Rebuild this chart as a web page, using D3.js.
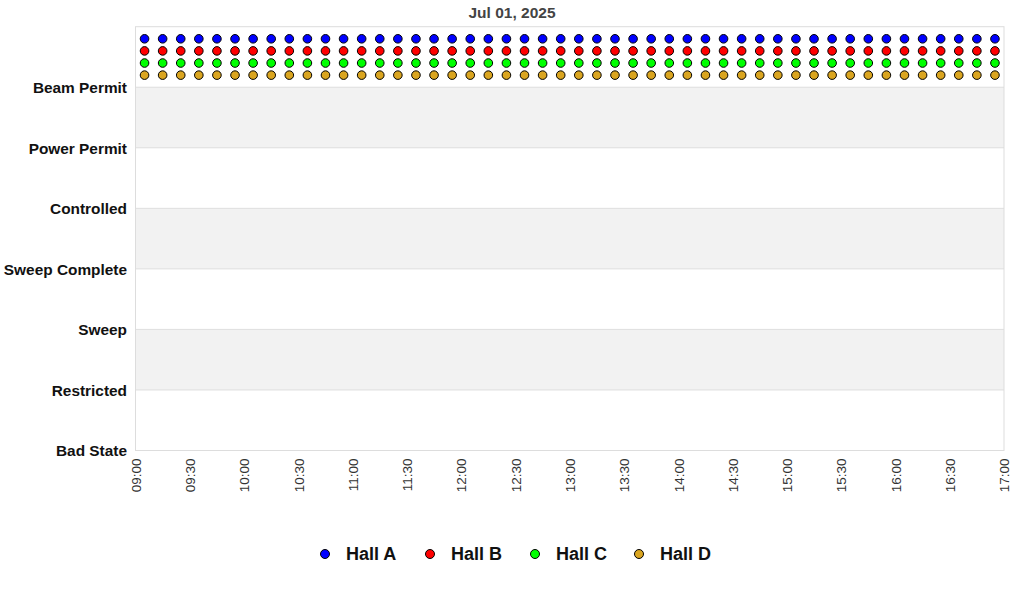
<!DOCTYPE html>
<html><head><meta charset="utf-8">
<script src="https://cdn.jsdelivr.net/npm/d3@7"></script>
<style>body{margin:0;background:#fff;font-family:"Liberation Sans",Arial,sans-serif}</style>
</head><body><svg id="c" width="1024" height="600"></svg>
<script>
const title = "Jul 01, 2025";
const states = ["Bad State","Restricted","Sweep","Sweep Complete","Controlled","Power Permit","Beam Permit"];
const halls = ["Hall A","Hall B","Hall C","Hall D"];
const hallColors = ["#0000ff","#ff0000","#00ff00","#daa520"];
const hallOffsets = [0.8,0.6,0.4,0.2];
const sampleTimes = ["09:05","09:15","09:25","09:35","09:45","09:55","10:05","10:15","10:25","10:35","10:45","10:55","11:05","11:15","11:25","11:35","11:45","11:55","12:05","12:15","12:25","12:35","12:45","12:55","13:05","13:15","13:25","13:35","13:45","13:55","14:05","14:15","14:25","14:35","14:45","14:55","15:05","15:15","15:25","15:35","15:45","15:55","16:05","16:15","16:25","16:35","16:45","16:55"];
const hallA = Array(48).fill("Beam Permit");
const hallB = Array(48).fill("Beam Permit");
const hallC = Array(48).fill("Beam Permit");
const hallD = Array(48).fill("Beam Permit");
const hallSeries = [hallA,hallB,hallC,hallD];
const tickLabels = ["09:00","09:30","10:00","10:30","11:00","11:30","12:00","12:30","13:00","13:30","14:00","14:30","15:00","15:30","16:00","16:30","17:00"];

const parse = d3.timeParse("%Y-%m-%d %H:%M");
const day = "2025-07-01 ";
const svg = d3.select("#c");
const L=135.5, R=1004, T=26.7, B=450.5;
const x = d3.scaleTime().domain([parse(day+"09:00"), parse(day+"17:00")]).range([L,R]);
const y = d3.scaleLinear().domain([0, states.length]).range([B,T]);

// bands
const g = svg.append("g");
for (let i=0;i<states.length;i++){
  if (i%2===1) g.append("rect").attr("x",L).attr("width",R-L).attr("y",y(i+1)).attr("height",y(i)-y(i+1)).attr("fill","#f2f2f2");
}
// grid lines
states.forEach((s,i)=>{ if(i>0) g.append("line").attr("x1",L).attr("x2",R).attr("y1",y(i)).attr("y2",y(i)).attr("stroke","#dedede"); });
g.append("rect").attr("x",L).attr("y",T).attr("width",R-L).attr("height",B-T).attr("fill","none").attr("stroke","#dddddd");

// y labels
svg.append("g").selectAll("text").data(states).join("text")
  .attr("x",127).attr("y",(d,i)=>y(i)).attr("dy","0.38em").attr("text-anchor","end")
  .attr("font-size",15.4).attr("font-weight","bold").attr("fill","#111").text(d=>d);

// x axis labels
const xa = svg.append("g").attr("transform",`translate(0,${B})`)
  .call(d3.axisBottom(x).tickValues(tickLabels.map(t=>parse(day+t))).tickFormat(d3.timeFormat("%H:%M")).tickSize(0));
xa.select(".domain").remove();
xa.selectAll("text").attr("transform","rotate(-90)").attr("text-anchor","end")
  .attr("x",-8).attr("y",0).attr("dy","0.35em").attr("font-size",13.5)
  .attr("font-family","'Liberation Sans',Arial,sans-serif").attr("fill","#333");

// points
hallSeries.forEach((ser,h)=>{
  svg.append("g").selectAll("circle").data(ser.map((s,i)=>({t:parse(day+sampleTimes[i]),v:states.indexOf(s)+hallOffsets[h]})))
    .join("circle").attr("cx",d=>x(d.t)).attr("cy",d=>y(d.v)).attr("r",4.3)
    .attr("fill",hallColors[h]).attr("stroke","#000").attr("stroke-width",1);
});

// title
svg.append("text").attr("x",512).attr("y",18).attr("text-anchor","middle")
  .attr("font-size",15.5).attr("font-weight","bold").attr("fill","#444").text(title);

// legend
const legX=[325,430,535,639];
const lg = svg.append("g");
halls.forEach((h,i)=>{
  lg.append("circle").attr("cx",legX[i]).attr("cy",554).attr("r",4.5).attr("fill",hallColors[i]).attr("stroke","#000");
  lg.append("text").attr("x",legX[i]+21).attr("y",554).attr("dy","0.35em").attr("font-size",18).attr("font-weight","bold").attr("fill","#111").text(h);
});
</script></body></html>
